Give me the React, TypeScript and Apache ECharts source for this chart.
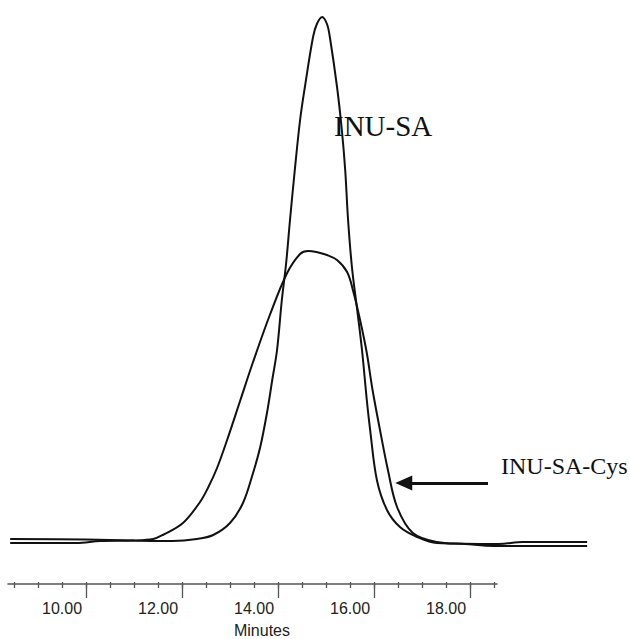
import React, { useEffect, useRef } from "react";
import * as echarts from "echarts";

// Retention time (minutes) vs detector response, read as [time, response]
const inuSa: [number, number][] = [
  [8.92, 0.4], [10.5, 0.3], [11.5, 0.1], [12.3, 0.0], [12.81, 0.4], [13.15, 1.2],
  [13.5, 3.6], [13.77, 7.6], [13.98, 13.6], [14.13, 18.8], [14.27, 25.6], [14.38, 32.2],
  [14.48, 38.2], [14.58, 48.2], [14.67, 55.6], [14.75, 64.2], [14.85, 74.2], [14.96, 84.2],
  [15.06, 90.8], [15.23, 100.8], [15.31, 103.4], [15.42, 104.8], [15.52, 103.4], [15.58, 100.8],
  [15.73, 90.8], [15.83, 82.2], [15.9, 74.2], [15.96, 64.2], [16.04, 54.8], [16.15, 46.2],
  [16.25, 38.2], [16.35, 28.2], [16.42, 22.2], [16.56, 12.2], [16.77, 6.2], [17.04, 2.8],
  [17.4, 0.8], [17.81, -0.4], [19.1, -0.6], [19.6, -0.2], [20.94, -0.2],
];

const inuSaCys: [number, number][] = [
  [8.92, -0.4], [10.3, -0.4], [10.8, 0.0], [11.5, 0.1], [11.9, 0.4], [12.1, 1.2],
  [12.52, 3.6], [12.875, 7.8], [13.05, 10.8], [13.23, 14.6], [13.44, 20.2], [13.71, 28.0],
  [13.98, 35.8], [14.33, 45.2], [14.69, 53.6], [14.96, 57.4], [15.125, 58.0], [15.3, 57.8],
  [15.52, 57.2], [15.73, 56.2], [15.94, 53.8], [16.06, 50.2], [16.21, 44.2], [16.35, 37.6],
  [16.47, 30.2], [16.625, 22.2], [16.79, 14.2], [16.98, 6.8], [17.31, 1.6], [17.81, -0.2],
  [18.4, -0.6], [19.0, -1.0], [20.94, -1.0],
];

// Labelled retention times on the time axis
const labelledTimes = [10, 12, 14, 16, 18];

// Arrow pointing at the INU-SA-Cys trace: [from, to] as [time, response]
const arrowFrom: [number, number] = [18.875, 11.6];
const arrowTo: [number, number] = [17.12, 11.6];

const AXIS_COLOR = "#555";

export default function App() {
  const ref = useRef<HTMLDivElement>(null);

  useEffect(() => {
    if (!ref.current) return;
    const chart = echarts.init(ref.current, undefined, { renderer: "svg" });

    const hiddenY = (gridIndex: number) => ({
      type: "value" as const,
      gridIndex,
      show: false,
      min: 0,
      max: 1,
    });

    chart.setOption({
      animation: false,
      backgroundColor: "#fff",
      grid: [
        { left: 9.2, width: 580.8, top: 1, height: 550 },
        { left: 8, width: 489, top: 500, bottom: 55 },
        { left: 14, width: 480, top: 500, bottom: 55 },
        { left: 86, width: 384, top: 500, bottom: 55 },
      ],
      xAxis: [
        { type: "value", gridIndex: 0, min: 8.9, max: 21.0, show: false },
        {
          type: "value",
          gridIndex: 1,
          min: 8.875,
          max: 19.0625,
          axisLine: { show: true, lineStyle: { color: AXIS_COLOR, width: 1.5 } },
          axisTick: { show: false },
          axisLabel: { show: false },
          splitLine: { show: false },
        },
        {
          type: "value",
          gridIndex: 2,
          min: 9,
          max: 19,
          interval: 0.5,
          axisLine: { show: false },
          axisTick: { show: true, length: 6, lineStyle: { color: AXIS_COLOR, width: 1.3 } },
          axisLabel: {
            margin: 18,
            fontSize: 16,
            color: "#222",
            fontFamily: "'Liberation Sans', Arial, sans-serif",
            formatter: (v: number) =>
              labelledTimes.includes(Math.round(v * 100) / 100) ? v.toFixed(2) : "",
          },
          splitLine: { show: false },
          name: "Minutes",
          nameLocation: "middle",
          nameGap: 40,
          nameTextStyle: {
            fontSize: 16,
            color: "#222",
            fontFamily: "'Liberation Sans', Arial, sans-serif",
            padding: [0, 0, 0, 16],
          },
        },
        {
          type: "value",
          gridIndex: 3,
          min: 10.5,
          max: 18.5,
          interval: 2,
          axisLine: { show: false },
          axisTick: { show: true, length: 14, lineStyle: { color: AXIS_COLOR, width: 1.3 } },
          axisLabel: { show: false },
          splitLine: { show: false },
        },
      ],
      yAxis: [
        { type: "value", gridIndex: 0, min: -2, max: 108, show: false },
        hiddenY(1),
        hiddenY(2),
        hiddenY(3),
      ],
      series: [
        {
          name: "INU-SA",
          type: "line",
          xAxisIndex: 0,
          yAxisIndex: 0,
          data: inuSa,
          showSymbol: false,
          smooth: 0.35,
          lineStyle: { color: "#111", width: 2 },
          silent: true,
        },
        {
          name: "INU-SA-Cys",
          type: "line",
          xAxisIndex: 0,
          yAxisIndex: 0,
          data: inuSaCys,
          showSymbol: false,
          smooth: 0.35,
          lineStyle: { color: "#111", width: 2 },
          silent: true,
          markLine: {
            silent: true,
            symbol: ["none", "triangle"],
            symbolSize: [15, 17],
            label: { show: false },
            lineStyle: { color: "#111", width: 3, type: "solid" },
            data: [[{ coord: arrowFrom }, { coord: arrowTo }]],
          },
        },
      ],
      graphic: [
        {
          type: "text",
          left: 334,
          top: 111,
          style: {
            text: "INU-SA",
            fontSize: 29,
            fontFamily: "'Liberation Serif', 'Times New Roman', serif",
            fill: "#111",
          },
        },
        {
          type: "text",
          left: 501,
          top: 454,
          style: {
            text: "INU-SA-Cys",
            fontSize: 24,
            fontFamily: "'Liberation Serif', 'Times New Roman', serif",
            fill: "#111",
          },
        },
      ],
    });

    return () => chart.dispose();
  }, []);

  return (
    <div
      ref={ref}
      style={{ position: "fixed", left: 0, top: 0, width: 630, height: 639, background: "#fff" }}
    />
  );
}
